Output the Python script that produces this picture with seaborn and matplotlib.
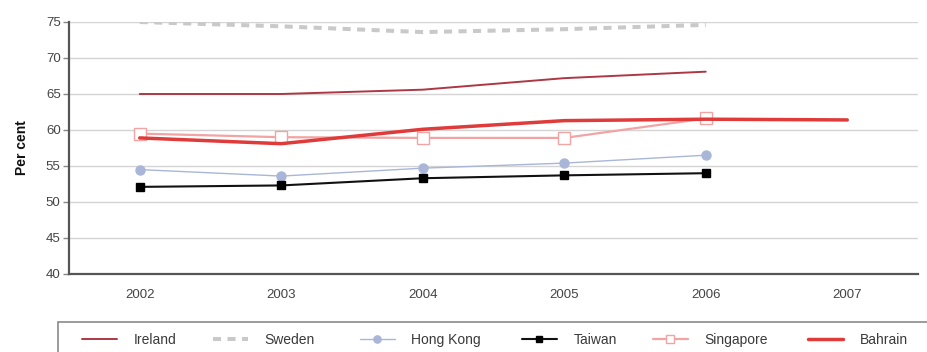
import matplotlib
matplotlib.use("Agg")
import matplotlib.pyplot as plt
from matplotlib.patches import Rectangle
from matplotlib.ticker import MultipleLocator, FixedLocator
import pandas as pd
import seaborn as sns

# Employment rates, per cent
years = [2002, 2003, 2004, 2005, 2006, 2007]
ireland = [65.0, 65.0, 65.6, 67.2, 68.1]
sweden = [75.0, 74.4, 73.6, 74.0, 74.6]
hong_kong = [54.5, 53.6, 54.7, 55.4, 56.5]
taiwan = [52.1, 52.3, 53.3, 53.7, 54.0]
singapore = [59.5, 59.0, 58.9, 58.9, 61.6]
bahrain = [58.9, 58.1, 60.1, 61.3, 61.5, 61.4]

series = [
    ("Ireland", ireland, dict(color="#ad3844", lw=1.4)),
    ("Sweden", sweden, dict(color="#c9c9c9", lw=2.9, dashes=(2.0, 1.6))),
    ("Hong Kong", hong_kong, dict(color="#a9b6d8", lw=1.0, marker="o", ms=6.5,
                                  mfc="#a9b6d8", mec="#a9b6d8")),
    ("Taiwan", taiwan, dict(color="#111111", lw=1.5, marker="s", ms=5.5,
                            mfc="#000000", mec="#000000")),
    ("Singapore", singapore, dict(color="#f2a3a3", lw=1.6, marker="s", ms=8,
                                  mfc="white", mec="#f2a3a3", mew=1.0)),
    ("Bahrain", bahrain, dict(color="#e03b3b", lw=2.5)),
]

sns.set_style("white")
plt.rcParams["font.family"] = ["Liberation Sans", "DejaVu Sans"]

fig = plt.figure(figsize=(9.27, 3.52), dpi=100)
ax = fig.add_axes([0.0744, 0.2216, 0.9159, 0.7159])

for name, vals, style in series:
    df = pd.DataFrame({"year": years[:len(vals)], "value": vals})
    kw = dict(style)
    dashes = kw.pop("dashes", None)
    line_kw = {}
    if "marker" in kw:
        line_kw = dict(marker=kw.pop("marker"), markersize=kw.pop("ms"),
                       markerfacecolor=kw.pop("mfc"), markeredgecolor=kw.pop("mec"),
                       markeredgewidth=kw.pop("mew", 1.0))
    sns.lineplot(data=df, x="year", y="value", ax=ax, label=name,
                 color=kw["color"], linewidth=kw["lw"], **line_kw)
    if dashes is not None:
        ax.lines[-1].set_dashes(dashes)

ax.set_xlim(2001.5, 2007.5)
ax.set_ylim(40, 75)
ax.yaxis.set_major_locator(MultipleLocator(5))
ax.xaxis.set_major_locator(FixedLocator(years))
ax.xaxis.set_minor_locator(FixedLocator([y - 0.5 for y in years] + [years[-1] + 0.5]))
ax.tick_params(axis="x", which="major", length=0, pad=11, labelsize=9.5, labelcolor="#444444")
ax.tick_params(axis="x", which="minor", length=6, width=1.0, color="#666666", direction="out")
ax.tick_params(axis="y", which="major", length=4, width=1.0, color="#888888",
               direction="out", left=True, labelsize=9.5, labelcolor="#444444", pad=2)

ax.grid(axis="y", color="#d4d4d4", linewidth=1.0)
ax.set_axisbelow(True)
for side in ("top", "right"):
    ax.spines[side].set_visible(False)
for side in ("left", "bottom"):
    ax.spines[side].set_color("#555555")
    ax.spines[side].set_linewidth(1.6)

ax.set_xlabel("")
ax.set_ylabel("Per cent", fontsize=10, fontweight="bold", color="#111111", labelpad=12)

handles, labels = ax.get_legend_handles_labels()
ax.get_legend().remove()

# Legend entries laid out along the bottom in a framed strip
entry_x = [82, 213, 360, 522, 653, 808]
for h, lab, x in zip(handles, labels, entry_x):
    fig.legend([h], [lab], loc="center left",
               bbox_to_anchor=(x / 927, 1 - 340 / 352),
               frameon=False, fontsize=10, handlelength=2.5, handletextpad=1.2,
               markerscale=0.8, borderpad=0, borderaxespad=0, labelcolor="#3a3a3a")

fig.patches.append(Rectangle((58 / 927, -0.05), 1.0, 0.05 + (1 - 322 / 352),
                             transform=fig.transFigure, fill=False,
                             edgecolor="#8a8a8a", linewidth=1.2))

fig.savefig("out.png", dpi=100)
